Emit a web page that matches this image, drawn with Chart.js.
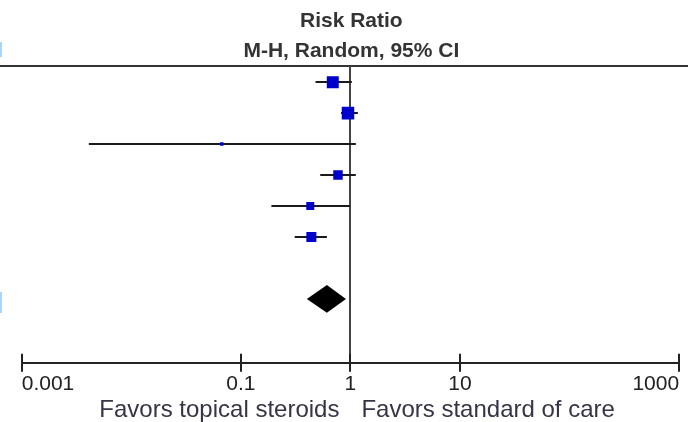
<!DOCTYPE html>
<html lang="en">
<head>
  <meta charset="UTF-8" />
  <title>Risk Ratio forest plot</title>
  <script src="https://cdn.jsdelivr.net/npm/chart.js"></script>
  <style>
    html, body { margin: 0; padding: 0; background: #fff; }
  </style>
</head>
<body>
  <canvas id="forest" width="688" height="422"></canvas>

  <script>
    // study rows (top to bottom), risk ratios with 95% CI
    const rows = [0, 1, 2, 3, 4, 5];
    const rr = [0.69, 0.95, 0.067, 0.77, 0.43, 0.44];
    const ciLow = [0.48, 0.82, 0.0041, 0.53, 0.19, 0.31];
    const ciHigh = [1.03, 1.17, 1.12, 1.12, 0.99, 0.61];
    const weights = [25.4, 27.6, 2.1, 15.9, 11.3, 17.7];

    // pooled estimate (diamond)
    const pooledRow = 7;
    const pooled = [0.40, 0.61, 0.91];

    const tickValues = [0.001, 0.1, 1, 10, 1000];
    const tickLabels = ["0.001", "0.1", "1", "10", "1000"];
    const favorsLeft = "Favors topical steroids";
    const favorsRight = "Favors standard of care";

    const FONT = "'Liberation Sans', Arial, sans-serif";

    const forestPlugin = {
      id: "forest",
      beforeDatasetsDraw(chart) {
        const { ctx, chartArea, scales: { x, y } } = chart;
        ctx.save();
        // top rule across the whole width
        ctx.strokeStyle = "#333";
        ctx.lineWidth = 2;
        ctx.beginPath();
        ctx.moveTo(0, chartArea.top);
        ctx.lineTo(chart.width, chartArea.top);
        ctx.stroke();

        // line of no effect
        const x1 = Math.round(x.getPixelForValue(1));
        ctx.strokeStyle = "#444";
        ctx.beginPath();
        ctx.moveTo(x1, chartArea.top);
        ctx.lineTo(x1, chartArea.bottom);
        ctx.stroke();

        // confidence intervals
        ctx.strokeStyle = "#1a1a1a";
        rows.forEach((r, i) => {
          const py = Math.round(y.getPixelForValue(r));
          ctx.beginPath();
          ctx.moveTo(x.getPixelForValue(ciLow[i]), py);
          ctx.lineTo(x.getPixelForValue(ciHigh[i]), py);
          ctx.stroke();
        });

        // pooled diamond
        const dy = y.getPixelForValue(pooledRow);
        const half = (y.getPixelForValue(1) - y.getPixelForValue(0)) * 0.45;
        ctx.fillStyle = "#000";
        ctx.beginPath();
        ctx.moveTo(x.getPixelForValue(pooled[0]), dy);
        ctx.lineTo(x.getPixelForValue(pooled[1]), dy - half);
        ctx.lineTo(x.getPixelForValue(pooled[2]), dy);
        ctx.lineTo(x.getPixelForValue(pooled[1]), dy + half);
        ctx.closePath();
        ctx.fill();

        // clipped fragments at the left edge
        ctx.fillStyle = "#a6d6ff";
        ctx.fillRect(0, dy - 7, 2, 21);
        ctx.fillRect(0, chartArea.top - 24, 2, 15);
        ctx.restore();
      },
      afterDraw(chart) {
        const { ctx, chartArea, scales: { x } } = chart;
        ctx.save();
        // tick marks crossing the axis
        ctx.strokeStyle = "#222";
        ctx.lineWidth = 2;
        tickValues.forEach(v => {
          const px = Math.round(x.getPixelForValue(v));
          ctx.beginPath();
          ctx.moveTo(px, chartArea.bottom - 9);
          ctx.lineTo(px, chartArea.bottom + 9);
          ctx.stroke();
        });

        // favours labels either side of 1
        const x1 = x.getPixelForValue(1);
        ctx.font = "24px " + FONT;
        ctx.fillStyle = "#353545";
        ctx.textBaseline = "alphabetic";
        ctx.textAlign = "right";
        ctx.fillText(favorsLeft, x1 - 11, chartArea.bottom + 54.5);
        ctx.textAlign = "left";
        ctx.fillText(favorsRight, x1 + 11, chartArea.bottom + 54.5);
        ctx.restore();
      }
    };

    const ctx = document.getElementById("forest").getContext("2d");
    new Chart(ctx, {
      type: "scatter",
      data: {
        datasets: [{
          data: rows.map((r, i) => ({ x: rr[i], y: r })),
          pointStyle: "rect",
          pointRadius: weights.map(w => 2.38 * Math.sqrt(w) / Math.SQRT2),
          backgroundColor: "#0000cc",
          borderColor: "#0000cc",
          borderWidth: 0
        }]
      },
      options: {
        responsive: false,
        animation: false,
        layout: { padding: { left: 21.7, right: 7, top: 0, bottom: 0 } },
        plugins: {
          legend: { display: false },
          tooltip: { enabled: false },
          title: {
            display: true,
            text: ["Risk Ratio", "M-H, Random, 95% CI"],
            color: "#333",
            font: { family: FONT, size: 21, weight: "bold", lineHeight: 1.43 },
            padding: { top: 6, bottom: 0 }
          }
        },
        scales: {
          x: {
            type: "logarithmic",
            min: 0.001,
            max: 1000,
            afterBuildTicks: s => { s.ticks = tickValues.map(v => ({ value: v })); },
            afterFit: s => { s.height = 59.3; },
            ticks: {
              autoSkip: false,
              maxRotation: 0,
              align: "inner",
              padding: 3,
              color: "#222",
              font: { family: FONT, size: 21 },
              callback: (v, i) => tickLabels[i]
            },
            grid: { drawOnChartArea: false, drawTicks: true, tickLength: 6, color: "rgba(0,0,0,0)" },
            border: { display: true, color: "#222", width: 2 }
          },
          y: {
            type: "linear",
            display: false,
            reverse: true,
            min: -0.52,
            max: 9.06
          }
        }
      },
      plugins: [forestPlugin]
    });
  </script>
</body>
</html>
